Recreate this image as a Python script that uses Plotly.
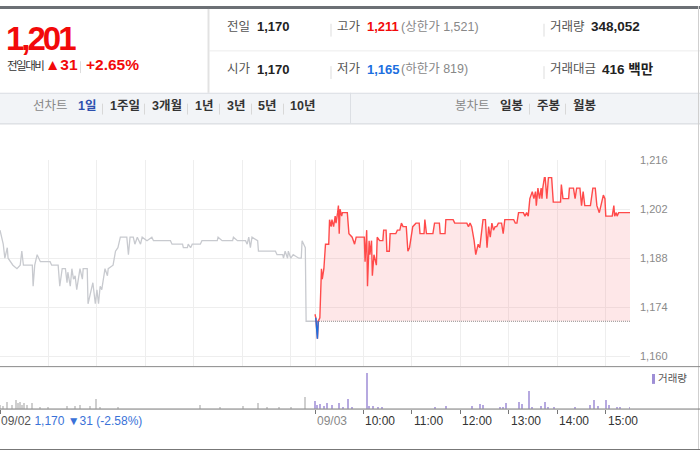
import plotly.graph_objects as go

W, H = 700, 450

# ---- data -------------------------------------------------------------
PREV_CLOSE = 1170
Y_TICKS = [1160, 1174, 1188, 1202, 1216]
HOUR_LABELS = ["10:00", "11:00", "12:00", "13:00", "14:00", "15:00"]

DAY1_TIME = [
    "09:00", "09:04", "09:06", "09:09", "09:10", "09:16", "09:21", "09:25", "09:27", "09:29",
    "09:40", "09:41", "09:43", "09:46", "09:50", "10:02", "10:04", "10:12", "10:14", "10:17",
    "10:21", "10:23", "10:24", "10:27", "10:29", "10:31", "10:33", "10:35", "10:39", "10:42",
    "10:43", "10:48", "10:49", "10:52", "10:55", "10:58", "11:00", "11:02", "11:04", "11:06",
    "11:10", "11:13", "11:14", "11:20", "11:23", "11:26", "11:29", "11:37", "11:39", "11:41",
    "11:45", "11:47", "11:50", "11:54", "11:56", "12:02", "12:08", "12:10", "12:31", "12:33",
    "12:46", "12:47", "12:52", "12:53", "12:56", "12:58", "13:08", "13:10", "13:29", "13:30",
    "13:35", "13:48", "13:49", "13:54", "14:04", "14:06", "14:08", "14:10", "14:12", "14:19",
    "14:20", "14:29", "14:41", "14:43", "14:50", "14:51", "14:53", "14:56", "14:57", "15:00",
    "15:03", "15:10", "15:13", "15:14", "15:18", "15:19", "15:30",
]
DAY1_PRICE = [
    1196, 1192, 1188, 1191, 1188, 1186, 1185, 1186, 1190, 1186,
    1186, 1180, 1186, 1189, 1187, 1187, 1186, 1186, 1180, 1185,
    1185, 1181, 1184, 1180, 1185, 1182, 1183, 1179, 1185, 1182,
    1185, 1185, 1175, 1178, 1181, 1175, 1179, 1175, 1180, 1179,
    1185, 1183, 1185, 1186, 1190, 1191, 1194, 1194, 1189, 1194,
    1194, 1192, 1194, 1192, 1194, 1193, 1194, 1193, 1193, 1192,
    1192, 1191, 1191, 1192, 1191, 1192, 1192, 1193, 1193, 1194,
    1193, 1193, 1194, 1193, 1193, 1192, 1194, 1191, 1194, 1193,
    1190, 1190, 1190, 1189, 1189, 1188, 1190, 1188, 1190, 1188,
    1189, 1188, 1188, 1193, 1191, 1170, 1170,
]

DAY2_TIME = [
    "09:00", "09:01", "09:03", "09:04", "09:06", "09:08", "09:09", "09:11", "09:13", "09:17",
    "09:18", "09:20", "09:21", "09:23", "09:25", "09:26", "09:28", "09:29", "09:30", "09:31",
    "09:33", "09:34", "09:40", "09:42", "09:46", "09:49", "09:51", "10:01", "10:02", "10:04",
    "10:05", "10:07", "10:08", "10:10", "10:11", "10:13", "10:16", "10:17", "10:20", "10:24",
    "10:25", "10:28", "10:29", "10:32", "10:33", "10:40", "10:42", "10:45", "10:47", "10:49",
    "10:53", "10:55", "10:57", "11:01", "11:05", "11:09", "11:10", "11:15", "11:16", "11:18",
    "11:26", "11:28", "11:34", "11:35", "11:41", "11:42", "11:51", "11:53", "12:08", "12:10",
    "12:12", "12:14", "12:17", "12:19", "12:22", "12:24", "12:25", "12:28", "12:31", "12:33",
    "12:35", "12:37", "12:39", "12:41", "12:43", "12:45", "12:47", "12:51", "12:53", "12:55",
    "13:06", "13:08", "13:10", "13:12", "13:18", "13:20", "13:22", "13:24", "13:26", "13:29",
    "13:31", "13:33", "13:34", "13:36", "13:38", "13:40", "13:41", "13:42", "13:44", "13:45",
    "13:47", "13:49", "13:53", "13:55", "14:04", "14:05", "14:07", "14:14", "14:15", "14:20",
    "14:22", "14:24", "14:28", "14:30", "14:32", "14:34", "14:41", "14:44", "14:47", "14:49",
    "14:52", "14:57", "14:59", "15:00", "15:08", "15:10", "15:11", "15:13", "15:14", "15:16",
    "15:30",
]
DAY2_PRICE = [
    1172, 1171, 1165, 1170, 1171, 1185, 1182, 1185, 1192, 1192,
    1199, 1197, 1199, 1197, 1200, 1198, 1201, 1203, 1195, 1202,
    1200, 1201, 1201, 1195, 1194, 1192, 1194, 1194, 1187, 1196,
    1180, 1193, 1189, 1193, 1183, 1189, 1186, 1194, 1193, 1193,
    1196, 1196, 1190, 1190, 1195, 1195, 1196, 1196, 1198, 1197,
    1197, 1190, 1191, 1197, 1198, 1198, 1195, 1195, 1199, 1195,
    1195, 1198, 1198, 1195, 1195, 1199, 1199, 1198, 1198, 1197,
    1198, 1197, 1193, 1189, 1192, 1191, 1193, 1199, 1199, 1191,
    1197, 1194, 1198, 1196, 1197, 1197, 1198, 1198, 1195, 1199,
    1199, 1198, 1198, 1201, 1201, 1200, 1201, 1200, 1205, 1207,
    1205, 1207, 1203, 1208, 1205, 1208, 1205, 1208, 1211, 1211,
    1205, 1211, 1211, 1204, 1204, 1209, 1205, 1205, 1208, 1208,
    1205, 1208, 1208, 1203, 1207, 1203, 1203, 1208, 1208, 1203,
    1201, 1206, 1205, 1200, 1200, 1203, 1200, 1201, 1200, 1201,
    1201,
]

VOL1_TIME = [
    "09:00", "09:04", "09:09", "09:15", "09:20", "09:22", "09:25", "09:27", "09:30", "09:33",
    "09:40", "09:50", "10:00", "10:23", "10:33", "10:39", "10:52", "10:59", "11:04", "11:26",
    "13:08", "13:33", "14:01", "14:20", "14:31", "14:46", "15:00", "15:18",
]
VOL1 = [
    5000, 3500, 10000, 5000, 13500, 8500, 10000, 5000, 8500, 5000,
    8500, 2500, 2500, 3500, 3500, 5000, 3500, 15000, 2500, 1500,
    5000, 2500, 3500, 8500, 2500, 1500, 2500, 17500,
]
VOL2_TIME = [
    "09:00", "09:02", "09:06", "09:11", "09:15", "09:21", "09:30", "09:35", "09:41", "09:46",
    "10:05", "10:07", "10:12", "10:18", "10:23", "11:28", "11:42", "12:15", "12:24", "12:28",
    "12:49", "12:53", "12:57", "13:12", "13:16", "13:25", "13:29", "13:40", "13:45", "13:48",
    "13:56", "14:22", "14:40", "14:46", "14:50", "15:00", "15:04", "15:14", "15:18", "15:30",
]
VOL2 = [
    11500, 5000, 6500, 3500, 8500, 5000, 8500, 3000, 15000, 1500,
    55000, 3500, 3500, 1500, 1500, 1500, 3500, 3500, 6500, 5000,
    1500, 2500, 8500, 10000, 6500, 27500, 1500, 3500, 9500, 2500,
    1500, 1500, 5000, 14000, 4500, 14000, 5000, 1500, 1500, 1500,
]

FONT = "Liberation Sans, Noto Sans CJK KR, sans-serif"
RED = "#f20a0a"
BLUE = "#1c6fe0"


def to_x(times, day):
    return [day * 390 + (int(t[:2]) - 9) * 60 + int(t[3:]) for t in times]


def px(x):
    return x / W


def py(y):
    return 1 - y / H


x1 = to_x(DAY1_TIME, 0)
x2 = to_x(DAY2_TIME, 1)

# blue where the price sits under yesterday's close (plus the neighbours)
blue = [
    p if (p < PREV_CLOSE or (i > 0 and DAY2_PRICE[i - 1] < PREV_CLOSE)
          or (i + 1 < len(DAY2_PRICE) and DAY2_PRICE[i + 1] < PREV_CLOSE)) else None
    for i, p in enumerate(DAY2_PRICE)
]

fig = go.Figure()

fig.add_trace(go.Scatter(
    x=[390, 780], y=[PREV_CLOSE, PREV_CLOSE], mode="lines",
    line=dict(color="#8c8c8c", width=1, dash="1px,1px"), hoverinfo="skip",
))
fig.add_trace(go.Scatter(
    x=x2, y=DAY2_PRICE, mode="lines", fill="tonexty",
    fillcolor="rgba(250,120,130,0.18)", line=dict(color="#ff4a4a", width=1.4),
))
fig.add_trace(go.Scatter(
    x=x2, y=blue, mode="lines", line=dict(color=BLUE, width=1.4), connectgaps=False,
))
fig.add_trace(go.Scatter(
    x=x1, y=DAY1_PRICE, mode="lines", line=dict(color="#c8cacf", width=1.3),
))

fig.add_trace(go.Bar(
    x=to_x(VOL1_TIME, 0), y=VOL1, width=1.3, marker=dict(color="#cfcfcf", line_width=0),
    xaxis="x2", yaxis="y2",
))
fig.add_trace(go.Bar(
    x=to_x(VOL2_TIME, 1), y=VOL2, width=1.3, marker=dict(color="#b6a9e0", line_width=0),
    xaxis="x2", yaxis="y2",
))

grid_ticks = [0, 60, 120, 180, 240, 300, 360, 390, 450, 510, 570, 630, 690, 750]
x_dom = [0, 630 / W]

fig.update_layout(
    width=W, height=H, margin=dict(l=0, r=0, t=0, b=0),
    paper_bgcolor="white", plot_bgcolor="white",
    showlegend=False, bargap=0, font=dict(family=FONT, size=13, color="#333"),
    xaxis=dict(
        domain=x_dom, range=[0, 780], tickvals=grid_ticks, showticklabels=False,
        showgrid=True, gridcolor="#eeeeee", gridwidth=1, zeroline=False, ticks="",
    ),
    yaxis=dict(
        domain=[py(365), py(156)], range=[1157.19, 1216.05], tickvals=Y_TICKS,
        tickformat=",d", side="right", showgrid=True, gridcolor="#eeeeee", zeroline=False,
        ticks="", ticklabelstandoff=9, tickfont=dict(size=11, color="#8a8a8a"),
    ),
    xaxis2=dict(
        domain=x_dom, range=[0, 780], anchor="y2", tickvals=[0, 390, 450, 510, 570, 630, 690, 750],
        showticklabels=False, showgrid=False, zeroline=False, showline=False,
        ticks="outside", ticklen=4, tickcolor="#777", tickwidth=1,
    ),
    yaxis2=dict(
        domain=[py(408.3), py(366)], range=[0, 63500], visible=False,
    ),
)

shapes = []


def hline(y, x0, x1_, color, width=1):
    shapes.append(dict(type="line", xref="paper", yref="paper", x0=px(x0), x1=px(x1_),
                       y0=py(y), y1=py(y), line=dict(color=color, width=width)))


def vline(x, y0, y1, color, width=1):
    shapes.append(dict(type="line", xref="paper", yref="paper", x0=px(x), x1=px(x),
                       y0=py(y0), y1=py(y1), line=dict(color=color, width=width)))


def rect(x0, y0, x1_, y1, color):
    shapes.append(dict(type="rect", xref="paper", yref="paper", x0=px(x0), x1=px(x1_),
                       y0=py(y1), y1=py(y0), fillcolor=color, line=dict(width=0), layer="below"))


# header frame
rect(0, 0, 700, 3, "#6c7075")
vline(208.5, 3, 88, "#e2e2e2", 2)
hline(45.5, 209, 700, "#ececec")
for sx in (331, 544):
    vline(sx, 18, 31, "#dddddd")
    vline(sx, 61, 74, "#dddddd")
vline(80.5, 56, 68, "#dddddd")

# tab bar
rect(0, 88, 700, 119.5, "#f2f4f7")
hline(88.5, 0, 700, "#dcdfe4")
hline(119.5, 0, 700, "#d2d5da")
vline(350.5, 88, 119, "#dcdfe4")
for sx in (102, 144, 187, 219, 251, 283, 529, 565):
    vline(sx + 0.5, 99, 110, "#d8d8d8")

# frame around chart
vline(698.5, 0, 450, "#cfcfcf")
hline(365.5, 0, 700, "#8a8a8a")
hline(408.5, 0, 700, "#777777")
hline(449.5, 0, 700, "#777777")
rect(652, 373, 655, 383, "#9f8fd6")

fig.update_layout(shapes=shapes)

ann = []


def text(x, y, s, size=13, color="#333", family=FONT):
    ann.append(dict(xref="paper", yref="paper", x=px(x - 2), y=py(y), text=s, showarrow=False,
                    xanchor="left", yanchor="middle", font=dict(size=size, color=color, family=family)))


# price box
text(6, 33, "<span style='letter-spacing:-3px'><b>1,201</b></span>", 33, RED)
text(7, 60, "<span style='letter-spacing:-1.5px'>전일대비</span>", 11.5, "#333")
text(45, 59, "▲<b>31</b>", 15.5, RED)
text(86, 59, "<b>+2.65%</b>", 15.5, RED)

# info rows
for y, lab, val in ((21, "전일", "1,170"), (64, "시가", "1,170")):
    text(227, y, lab, 12.5, "#555")
    text(257, y, f"<b>{val}</b>", 13, "#222")
text(337, 21, "고가", 12.5, "#555")
text(367, 21, "<b>1,211</b>", 13, RED)
text(401, 21, "(상한가 1,521)", 12.5, "#888")
text(337, 64, "저가", 12.5, "#555")
text(367, 64, "<b>1,165</b>", 13, BLUE)
text(401, 64, "(하한가 819)", 12.5, "#888")
text(550, 21, "거래량", 12.5, "#555")
text(591, 21, "<b>348,052</b>", 13.5, "#222")
text(550, 64, "거래대금", 12.5, "#555")
text(602, 64, "<b>416 백만</b>", 13.5, "#222")

# tab bar
text(33, 101, "선차트", 12.5, "#888")
text(78, 101, "<b>1일</b>", 12.5, "#2d4fae")
for x, s in ((110, "1주일"), (152, "3개월"), (195, "1년"), (227, "3년"), (258, "5년"), (290, "10년")):
    text(x, 101, f"<b>{s}</b>", 12.5, "#333")
text(455, 101, "봉차트", 12.5, "#888")
for x, s in ((500, "일봉"), (537, "주봉"), (573, "월봉")):
    text(x, 101, f"<b>{s}</b>", 12.5, "#333")

# volume legend
text(658, 377, "거래량", 10.5, "#555")

# bottom axis labels
text(1, 421, "09/02 <span style='color:#3a72d8'>1,170 ▼31 (-2.58%)</span>", 12, "#555")
ann.append(dict(xref="x2", yref="paper", x=390, y=py(421), text="09/03", showarrow=False,
                xanchor="left", yanchor="middle", font=dict(size=12, color="#888")))
for i, lab in enumerate(HOUR_LABELS):
    ann.append(dict(xref="x2", yref="paper", x=450 + 60 * i, y=py(421), text=lab, showarrow=False,
                    xanchor="left", yanchor="middle", font=dict(size=12, color="#333")))

fig.update_layout(annotations=ann)

# the page's default body margin would push the 700x450 figure off the window
fig.write_html("out.html", config={"displayModeBar": False},
               post_script="document.body.style.margin='0';")
